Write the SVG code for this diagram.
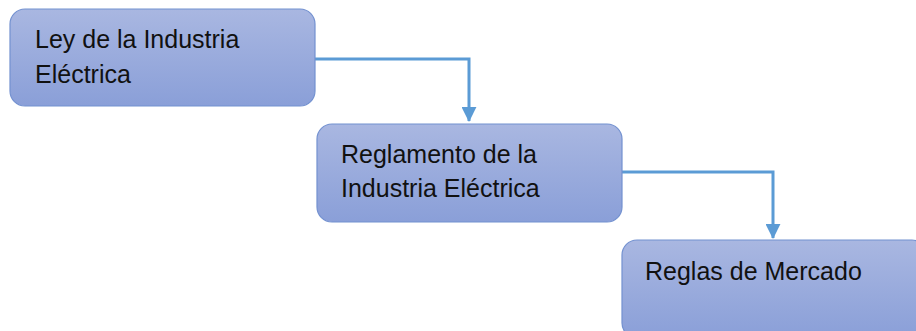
<svg xmlns="http://www.w3.org/2000/svg" width="916" height="331" viewBox="0 0 916 331">
<defs>
<linearGradient id="g" x1="0" y1="0" x2="0" y2="1">
<stop offset="0" stop-color="#a9b7e1"/>
<stop offset="1" stop-color="#8a9fd8"/>
</linearGradient>
<marker id="ah" markerWidth="5" markerHeight="5" refX="4.7" refY="2.5" orient="auto" markerUnits="strokeWidth">
<path d="M0,0 L5,2.5 L0,5 Z" fill="#5b9bd5"/>
</marker>
<style>
.box{fill:url(#g);stroke:#7391d0;stroke-width:1.2}
.t{font-family:"Liberation Sans",Arial,sans-serif;font-size:25px;fill:#111}
.c{fill:none;stroke:#5b9bd5;stroke-width:3}
</style>
</defs>
<g id="connectors">
<path class="c" d="M315,59 H469 V121" marker-end="url(#ah)"/>
<path class="c" d="M622,172 H773 V238" marker-end="url(#ah)"/>
</g>
<g id="n1">
<rect class="box" x="10" y="9" width="305" height="97" rx="15"/>
<text class="t" x="35" y="48">Ley de la Industria</text>
<text class="t" x="35" y="83">Eléctrica</text>
</g>
<g id="n2">
<rect class="box" x="317" y="124" width="305" height="98" rx="15"/>
<text class="t" x="341" y="163">Reglamento de la</text>
<text class="t" x="341" y="197">Industria Eléctrica</text>
</g>
<g id="n3">
<rect class="box" x="622" y="240" width="305" height="98" rx="15"/>
<text class="t" x="645" y="280">Reglas de Mercado</text>
</g>
</svg>
